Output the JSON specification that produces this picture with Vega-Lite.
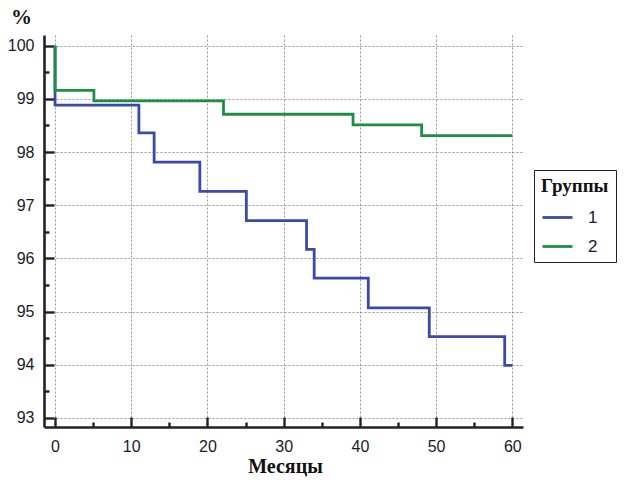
{
  "$schema": "https://vega.github.io/schema/vega-lite/v6.json",
  "width": 479,
  "height": 392,
  "autosize": {"type": "none"},
  "padding": {"left": 44, "top": 35, "right": 118, "bottom": 54},
  "background": "white",
  "config": {
    "view": {"stroke": null},
    "font": "Liberation Sans"
  },
  "data": {
    "values": [
      {"month": 0, "pct": 100, "group": "1"},
      {"month": 0, "pct": 98.88, "group": "1"},
      {"month": 11, "pct": 98.36, "group": "1"},
      {"month": 13, "pct": 97.81, "group": "1"},
      {"month": 19, "pct": 97.26, "group": "1"},
      {"month": 25.1, "pct": 96.71, "group": "1"},
      {"month": 33, "pct": 96.17, "group": "1"},
      {"month": 34, "pct": 95.63, "group": "1"},
      {"month": 41.1, "pct": 95.07, "group": "1"},
      {"month": 49.1, "pct": 94.53, "group": "1"},
      {"month": 59, "pct": 93.99, "group": "1"},
      {"month": 60, "pct": 93.99, "group": "1"},
      {"month": 0, "pct": 100, "group": "2"},
      {"month": 0, "pct": 99.16, "group": "2"},
      {"month": 5.1, "pct": 98.96, "group": "2"},
      {"month": 22.1, "pct": 98.71, "group": "2"},
      {"month": 39.1, "pct": 98.51, "group": "2"},
      {"month": 48.1, "pct": 98.31, "group": "2"},
      {"month": 60, "pct": 98.31, "group": "2"}
    ]
  },
  "mark": {"type": "line", "interpolate": "step-after", "strokeWidth": 2.8},
  "encoding": {
    "x": {
      "field": "month",
      "type": "quantitative",
      "scale": {"domain": [-1.45, 61.4], "nice": false, "zero": false},
      "axis": {
        "title": "Месяцы",
        "titleFont": "'Liberation Serif', 'Times New Roman', serif",
        "titleFontWeight": "bold",
        "titleFontSize": 20,
        "titleColor": "#111",
        "titlePadding": 2,
        "titleX": 241,
        "values": [0, 5, 10, 15, 20, 25, 30, 35, 40, 45, 50, 55, 60],
        "labelExpr": "datum.value % 10 == 0 ? format(datum.value, 'd') : ''",
        "labelFontSize": 16,
        "labelColor": "#1a1a2a",
        "labelPadding": 21,
        "labelFlush": false,
        "domainColor": "#222",
        "domainWidth": 2.6,
        "tickColor": "#222",
        "tickWidth": 2.4,
        "tickSize": {"condition": {"test": "datum.value % 10 != 0", "value": -5}, "value": -10},
        "gridDash": [2, 2],
        "gridColor": "#999",
        "gridWidth": 1,
        "gridOpacity": {"condition": {"test": "datum.value % 10 != 0", "value": 0}, "value": 1}
      }
    },
    "y": {
      "field": "pct",
      "type": "quantitative",
      "scale": {"domain": [92.83, 100.2], "nice": false, "zero": false},
      "axis": {
        "title": "%",
        "titleAngle": 0,
        "titleFont": "'Liberation Serif', 'Times New Roman', serif",
        "titleFontWeight": "bold",
        "titleFontSize": 21,
        "titleColor": "#111",
        "titleAlign": "center",
        "titleBaseline": "middle",
        "titleX": -23,
        "titleY": -18,
        "values": [93, 93.5, 94, 94.5, 95, 95.5, 96, 96.5, 97, 97.5, 98, 98.5, 99, 99.5, 100],
        "labelExpr": "datum.value % 1 == 0 ? format(datum.value, 'd') : ''",
        "labelFontSize": 16,
        "labelColor": "#1a1a2a",
        "labelPadding": 20,
        "labelFlush": false,
        "domainColor": "#222",
        "domainWidth": 2.6,
        "tickColor": "#222",
        "tickWidth": 2.4,
        "tickSize": {"condition": {"test": "datum.value % 1 != 0", "value": -5}, "value": -10},
        "gridDash": [2, 2],
        "gridColor": "#999",
        "gridWidth": 1,
        "gridOpacity": {"condition": {"test": "datum.value % 1 != 0", "value": 0}, "value": 1}
      }
    },
    "color": {
      "field": "group",
      "type": "nominal",
      "scale": {"domain": ["1", "2"], "range": ["#3a4aa6", "#1e8f42"]},
      "legend": {
        "title": "Группы",
        "orient": "none",
        "legendX": 490,
        "legendY": 135,
        "titleFont": "'Liberation Serif', 'Times New Roman', serif",
        "titleFontWeight": "bold",
        "titleFontSize": 19,
        "titleColor": "#111",
        "labelFontSize": 17,
        "labelColor": "#1a1a2a",
        "symbolType": "stroke",
        "symbolSize": 900,
        "symbolStrokeWidth": 2.8,
        "labelOffset": 14,
        "rowPadding": 4,
        "padding": 7,
        "strokeColor": "#222"
      }
    }
  }
}
